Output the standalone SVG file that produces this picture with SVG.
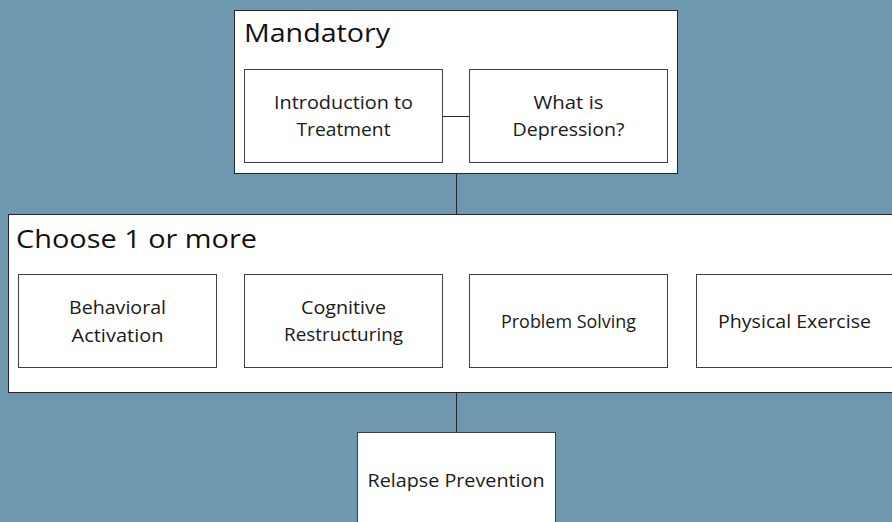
<svg xmlns="http://www.w3.org/2000/svg" width="892" height="522" viewBox="0 0 892 522">
<style>
.bg{fill:#6E98B0}
.grp{fill:#fff;stroke:#262626;stroke-width:1}
.box{fill:#fff;stroke:#404040;stroke-width:1}
.lbl{font-family:"Open Sans","Liberation Sans",sans-serif;font-size:18px;fill:#1a1a1a;text-anchor:middle}
.ttl{font-family:"Open Sans","Liberation Sans",sans-serif;font-size:25px;fill:#111}
.con{stroke:#262626;stroke-width:1;fill:none}
</style>
<rect class="bg" x="0" y="0" width="892" height="522"/>
<g id="connectors">
<line class="con" x1="456.5" y1="174" x2="456.5" y2="214"/>
<line class="con" x1="456.5" y1="393" x2="456.5" y2="432"/>
</g>
<g id="mandatory">
<rect class="grp" x="234.5" y="10.5" width="443" height="163"/>
<text class="ttl" x="244" y="42" textLength="146" lengthAdjust="spacingAndGlyphs">Mandatory</text>
</g>
<g id="intro-link">
<line class="con" x1="443" y1="116.5" x2="469" y2="116.5"/>
</g>
<g id="intro">
<rect class="box" x="244.5" y="69.5" width="198" height="93"/>
<text class="lbl" x="343.5" y="109" textLength="139" lengthAdjust="spacingAndGlyphs">Introduction to</text>
<text class="lbl" x="343.5" y="136" textLength="94" lengthAdjust="spacingAndGlyphs">Treatment</text>
</g>
<g id="depression">
<rect class="box" x="469.5" y="69.5" width="198" height="93"/>
<text class="lbl" x="568.5" y="109" textLength="70" lengthAdjust="spacingAndGlyphs">What is</text>
<text class="lbl" x="568.5" y="136" textLength="112" lengthAdjust="spacingAndGlyphs">Depression?</text>
</g>
<g id="choose">
<rect class="grp" x="8.5" y="214.5" width="900" height="178"/>
<text class="ttl" x="16" y="248" textLength="241" lengthAdjust="spacingAndGlyphs">Choose 1 or more</text>
</g>
<g id="behavioral">
<rect class="box" x="18.5" y="274.5" width="198" height="93"/>
<text class="lbl" x="117.5" y="314" textLength="97" lengthAdjust="spacingAndGlyphs">Behavioral</text>
<text class="lbl" x="117.5" y="341.5" textLength="92" lengthAdjust="spacingAndGlyphs">Activation</text>
</g>
<g id="cognitive">
<rect class="box" x="244.5" y="274.5" width="198" height="93"/>
<text class="lbl" x="343.5" y="313.5" textLength="85" lengthAdjust="spacingAndGlyphs">Cognitive</text>
<text class="lbl" x="343.5" y="341" textLength="119" lengthAdjust="spacingAndGlyphs">Restructuring</text>
</g>
<g id="problem">
<rect class="box" x="469.5" y="274.5" width="198" height="93"/>
<text class="lbl" x="568.5" y="327.5" textLength="135" lengthAdjust="spacingAndGlyphs">Problem Solving</text>
</g>
<g id="physical">
<rect class="box" x="696.5" y="274.5" width="198" height="93"/>
<text class="lbl" x="794.5" y="328" textLength="153" lengthAdjust="spacingAndGlyphs">Physical Exercise</text>
</g>
<g id="relapse">
<rect class="box" x="357.5" y="432.5" width="198" height="93"/>
<text class="lbl" x="456" y="487" textLength="177" lengthAdjust="spacingAndGlyphs">Relapse Prevention</text>
</g>
</svg>
